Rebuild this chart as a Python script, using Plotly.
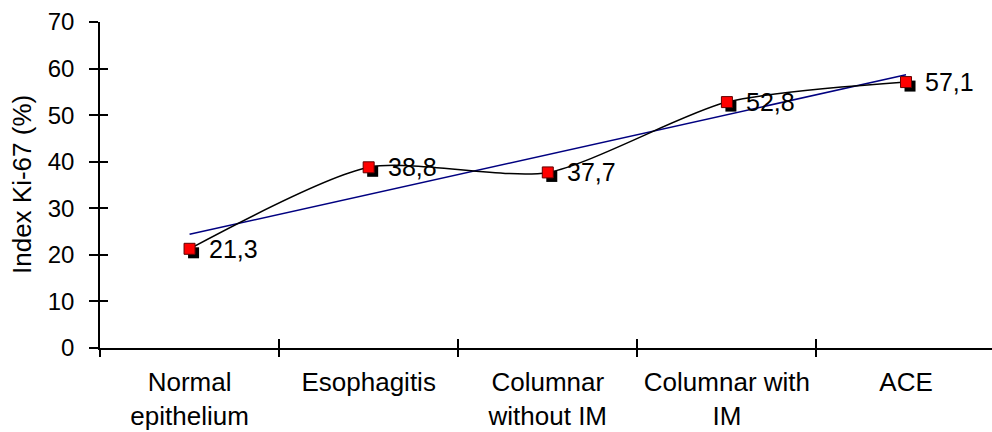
import numpy as np
import plotly.graph_objects as go

# Ki-67 proliferation index by tissue group
categories = ["Normal<br>epithelium", "Esophagitis", "Columnar<br>without IM",
              "Columnar with<br>IM", "ACE"]
ki67 = [21.3, 38.8, 37.7, 52.8, 57.1]
y_ticks = [0, 10, 20, 30, 40, 50, 60, 70]

FONT = "Arial, Liberation Sans, sans-serif"
W, H = 992, 432
M = dict(l=100, r=0, t=22, b=84)
X_RANGE = [-0.5, 4.48]
Y_RANGE = [0, 70]

xpos = np.arange(len(categories))
boundaries = np.arange(len(categories) + 1) - 0.5

# least-squares linear trend
slope, intercept = np.polyfit(xpos, ki67, 1)
trend = slope * xpos + intercept

# marker drop shadow offset, in pixels converted to data units
px_x = (W - M["l"] - M["r"]) / (X_RANGE[1] - X_RANGE[0])
px_y = (H - M["t"] - M["b"]) / (Y_RANGE[1] - Y_RANGE[0])
sh_dx, sh_dy = 4 / px_x, -4 / px_y

fig = go.Figure()

fig.add_trace(go.Scatter(
    x=xpos, y=trend, mode="lines",
    line=dict(color="#000080", width=1.5),
    hoverinfo="skip", showlegend=False))

fig.add_trace(go.Scatter(
    x=xpos, y=ki67, mode="lines",
    line=dict(color="black", width=1.5, shape="spline", smoothing=0.7),
    hoverinfo="skip", showlegend=False))

fig.add_trace(go.Scatter(
    x=xpos + sh_dx, y=np.array(ki67) + sh_dy, mode="markers",
    marker=dict(symbol="square", size=11, color="black",
                line=dict(color="black", width=0)),
    hoverinfo="skip", showlegend=False))

fig.add_trace(go.Scatter(
    x=xpos, y=ki67, mode="markers",
    marker=dict(symbol="square", size=11, color="#FF0000",
                line=dict(color="#600000", width=1)),
    showlegend=False))

# empty traces so the overlay axes (cross ticks) are drawn
for xa, ya in [("x2", "y"), ("x3", "y"), ("x", "y2")]:
    fig.add_trace(go.Scatter(x=[], y=[], xaxis=xa, yaxis=ya,
                             hoverinfo="skip", showlegend=False))

for xi, v in zip(xpos, ki67):
    fig.add_annotation(
        x=xi, y=v, xref="x", yref="y",
        text=f"{v:.1f}".replace(".", ","),
        showarrow=False, xanchor="left", yanchor="middle", xshift=17,
        font=dict(family=FONT, size=25, color="black"))

fig.add_annotation(
    x=(22 - M["l"]) / (W - M["l"] - M["r"]), y=0.5, xref="paper", yref="paper",
    text="Index Ki-67 (%)", textangle=-90, showarrow=False,
    xanchor="center", yanchor="middle",
    font=dict(family=FONT, size=26, color="black"))

axis_common = dict(showgrid=False, zeroline=False, fixedrange=True)

fig.update_layout(
    width=W, height=H, margin=M,
    paper_bgcolor="white", plot_bgcolor="white",
    font=dict(family=FONT, color="black"),
    xaxis=dict(range=X_RANGE, tickmode="array", tickvals=xpos, ticktext=categories,
               ticks="", showline=True, linecolor="black", linewidth=1.5,
               tickfont=dict(family=FONT, size=26, color="black"),
               ticklabelstandoff=10, **axis_common),
    xaxis2=dict(range=X_RANGE, overlaying="x", anchor="y", side="bottom",
                tickmode="array", tickvals=boundaries, ticks="outside",
                ticklen=8, tickwidth=1.5, tickcolor="black",
                showticklabels=False, showline=False, **axis_common),
    xaxis3=dict(range=X_RANGE, overlaying="x", anchor="y", side="bottom",
                tickmode="array", tickvals=boundaries, ticks="inside",
                ticklen=9, tickwidth=1.5, tickcolor="black",
                showticklabels=False, showline=False, **axis_common),
    yaxis=dict(range=Y_RANGE, tickmode="array", tickvals=y_ticks,
               ticks="outside", ticklen=9, tickwidth=1.5, tickcolor="black",
               showline=True, linecolor="black", linewidth=1.5,
               tickfont=dict(family=FONT, size=24, color="black"),
               ticklabelstandoff=10, **axis_common),
    yaxis2=dict(range=Y_RANGE, overlaying="y", anchor="x", side="left",
                tickmode="array", tickvals=y_ticks, ticks="inside",
                ticklen=8, tickwidth=1.5, tickcolor="black",
                showticklabels=False, showline=False, **axis_common),
)

fig.write_html("out.html")
